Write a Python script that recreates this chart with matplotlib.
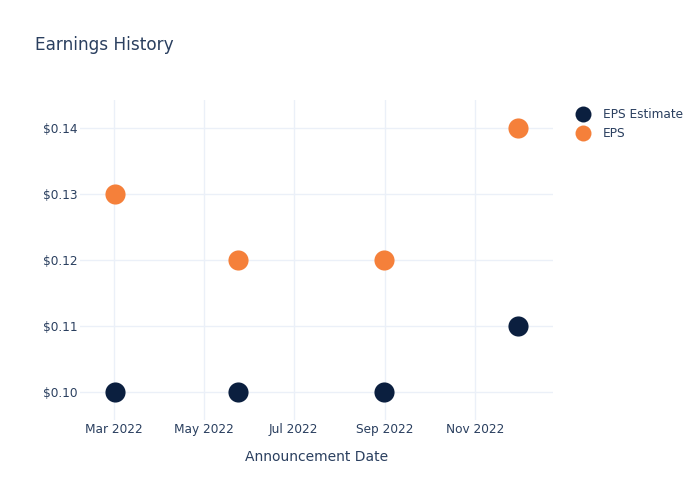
import matplotlib
matplotlib.use("Agg")
import matplotlib.pyplot as plt
import matplotlib.dates as mdates
from matplotlib.lines import Line2D
import datetime as dt

dates = ["2022-03-02", "2022-05-24", "2022-08-31", "2022-11-30"]
eps_estimate = [0.10, 0.10, 0.10, 0.11]
eps_actual = [0.13, 0.12, 0.12, 0.14]
series_names = ["EPS Estimate", "EPS"]
series_colors = ["#0b1f3f", "#f5803a"]

x = [dt.datetime.strptime(d, "%Y-%m-%d") for d in dates]
text_color = "#2a3f5f"
plt.rcParams['font.family'] = ['DejaVu Sans']

fig = plt.figure(figsize=(7, 5), dpi=100)
ax = fig.add_axes([80/700, 80/500, (553-80)/700, 320/500])

ax.scatter(x, eps_estimate, s=210, color=series_colors[0], zorder=3, linewidths=0)
ax.scatter(x, eps_actual, s=210, color=series_colors[1], zorder=3, linewidths=0)

ax.set_xlim(dt.datetime(2022, 2, 6), dt.datetime(2022, 12, 24))
ax.set_ylim(0.0957, 0.1443)
ax.set_yticks([0.10, 0.11, 0.12, 0.13, 0.14])
ax.set_yticklabels(["$0.10", "$0.11", "$0.12", "$0.13", "$0.14"])
ax.xaxis.set_major_locator(mdates.MonthLocator(bymonth=[3, 5, 7, 9, 11]))
ax.xaxis.set_major_formatter(mdates.DateFormatter("%b %Y"))

for s in ax.spines.values():
    s.set_visible(False)
ax.grid(True, color="#ebf0f8", linewidth=1)
ax.set_axisbelow(True)
ax.tick_params(axis="both", length=0, labelsize=8.7, colors=text_color)
ax.tick_params(axis="y", pad=1.5)
ax.tick_params(axis="x", pad=2)

ax.set_xlabel("Announcement Date", fontsize=10, color=text_color, labelpad=10)
fig.text(35/700, 1 - 44.5/500, "Earnings History", fontsize=12.2, color=text_color,
         va="center", ha="left")

handles = [Line2D([], [], marker="o", linestyle="", markersize=11.5,
                  markerfacecolor=c, markeredgewidth=0) for c in series_colors]
leg = fig.legend(handles, series_names, loc="upper left",
                 bbox_to_anchor=(570/700, 1 - 103/500), frameon=False,
                 fontsize=8.7, labelcolor=text_color, handletextpad=0.9,
                 labelspacing=0.55, borderaxespad=0, handlelength=1.4)

fig.savefig("out.png", dpi=100)
